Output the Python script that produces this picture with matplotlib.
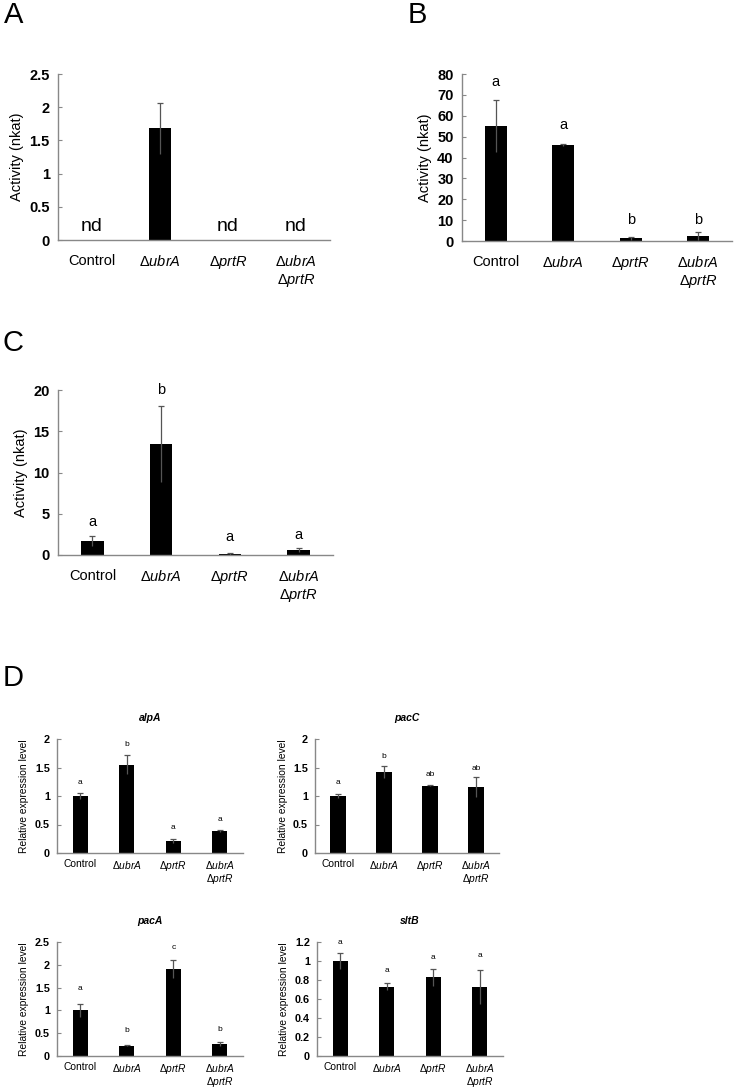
import matplotlib
matplotlib.use('Agg')
import matplotlib.pyplot as plt
import numpy as np

plt.rcParams['font.family'] = ['Liberation Sans', 'DejaVu Sans']
plt.rcParams['mathtext.fontset'] = 'custom'
plt.rcParams['mathtext.rm'] = 'Liberation Sans'
plt.rcParams['mathtext.it'] = 'Liberation Sans:italic'
plt.rcParams['mathtext.bf'] = 'Liberation Sans:bold:italic'

# 株名
strains = ['Control', 'Δ$\\mathit{ubrA}$', 'Δ$\\mathit{prtR}$',
           'Δ$\\mathit{ubrA}$\nΔ$\\mathit{prtR}$']

# A: 活性 (nd = 未検出)
a_vals = [0, 1.68, 0, 0]
a_err = [0, 0.39, 0, 0]
a_nd = [True, False, True, True]

# B
b_vals = [55.0, 46.0, 1.3, 2.5]
b_err = [12.5, 0.7, 0.8, 2.0]
b_letters = ['a', 'a', 'b', 'b']
b_letter_y = [76, 55.5, 10, 10]

# C
c_vals = [1.7, 13.5, 0.15, 0.6]
c_err = [0.6, 4.6, 0.1, 0.2]
c_letters = ['a', 'b', 'a', 'a']
c_letter_y = [4.0, 20.0, 2.2, 2.4]

# D: 相対発現量
genes = ['alpA', 'pacC', 'pacA', 'sltB']
d_vals = {'alpA': [1.0, 1.55, 0.21, 0.38],
          'pacC': [1.0, 1.42, 1.18, 1.16],
          'pacA': [1.0, 0.23, 1.9, 0.26],
          'sltB': [1.0, 0.73, 0.83, 0.73]}
d_err = {'alpA': [0.05, 0.17, 0.03, 0.02],
         'pacC': [0.04, 0.11, 0.01, 0.17],
         'pacA': [0.14, 0.02, 0.2, 0.04],
         'sltB': [0.08, 0.04, 0.09, 0.18]}
d_letters = {'alpA': ['a', 'b', 'a', 'a'],
             'pacC': ['a', 'b', 'ab', 'ab'],
             'pacA': ['a', 'b', 'c', 'b'],
             'sltB': ['a', 'a', 'a', 'a']}
d_letter_y = {'alpA': [1.23, 1.91, 0.44, 0.58],
              'pacC': [1.23, 1.70, 1.37, 1.49],
              'pacA': [1.49, 0.55, 2.39, 0.59],
              'sltB': [1.19, 0.90, 1.04, 1.06]}
d_ylim = {'alpA': 2, 'pacC': 2, 'pacA': 2.5, 'sltB': 1.2}
d_ticks = {'alpA': [0, 0.5, 1, 1.5, 2], 'pacC': [0, 0.5, 1, 1.5, 2],
           'pacA': [0, 0.5, 1, 1.5, 2, 2.5],
           'sltB': [0, 0.2, 0.4, 0.6, 0.8, 1, 1.2]}

W, H = 738, 1089
fig = plt.figure(figsize=(W / 100, H / 100), dpi=100)


def box(l, r, t, b):
    return [l / W, 1 - b / H, (r - l) / W, (b - t) / H]


def fmt(v):
    return ('%g' % v)


def bars(ax, vals, err, ymax, ticks, fs, tfs, ylabel, capw, ls=1.3):
    x = np.arange(len(vals))
    ax.bar(x, vals, width=0.33, color='black', zorder=2)
    ax.errorbar(x, vals, yerr=err, fmt='none', ecolor='#555555',
                elinewidth=0.9, capsize=0, zorder=3)
    e = np.array(err)
    v = np.array(vals)
    m = e > 0
    ax.plot(x[m], (v + e)[m], ls='none', marker='_', ms=capw,
            mew=0.9, color='#555555', zorder=3)
    ax.set_xlim(-0.5, len(vals) - 0.5)
    ax.set_ylim(0, ymax)
    ax.set_yticks(ticks)
    ax.set_yticklabels([fmt(t) for t in ticks], fontsize=tfs,
                       fontweight='bold')
    ax.set_xticks(x)
    ax.set_xticklabels(strains, fontsize=fs, va='top', linespacing=ls)
    ax.tick_params(axis='x', length=0, pad=10)
    ax.tick_params(axis='y', direction='in', length=3, width=0.8,
                   color='#888888', pad=6)
    for s in ['top', 'right']:
        ax.spines[s].set_visible(False)
    for s in ['left', 'bottom']:
        ax.spines[s].set_color('#888888')
        ax.spines[s].set_linewidth(1.0)
    ax.set_ylabel(ylabel, fontsize=fs)


# A
axA = fig.add_axes(box(58, 330, 74, 240))
bars(axA, a_vals, a_err, 2.5, [0, 0.5, 1, 1.5, 2, 2.5], 10.5, 10.5,
     'Activity (nkat)', 5)
for i, nd in enumerate(a_nd):
    if nd:
        axA.text(i, 0.07, 'nd', ha='center', va='bottom', fontsize=14)

# B
axB = fig.add_axes(box(462, 732, 74, 241))
bars(axB, b_vals, b_err, 80, list(range(0, 81, 10)), 10.5, 10.5,
     'Activity (nkat)', 5)
for i, (t, yy) in enumerate(zip(b_letters, b_letter_y)):
    axB.text(i, yy, t, ha='center', va='center', fontsize=10.5)

# C
axC = fig.add_axes(box(58, 333, 390, 555))
bars(axC, c_vals, c_err, 20, [0, 5, 10, 15, 20], 10.5, 10.5,
     'Activity (nkat)', 5)
for i, (t, yy) in enumerate(zip(c_letters, c_letter_y)):
    axC.text(i, yy, t, ha='center', va='center', fontsize=10.5)

# D
d_boxes = {'alpA': (57, 243, 739, 853), 'pacC': (315, 499, 739, 853),
           'pacA': (57, 243, 942, 1056), 'sltB': (317, 503, 942, 1056)}
for g in genes:
    ax = fig.add_axes(box(*d_boxes[g]))
    bars(ax, d_vals[g], d_err[g], d_ylim[g], d_ticks[g], 7.4, 7.8,
         'Relative expression level', 4, ls=1.15)
    ax.tick_params(axis='x', pad=4)
    ax.tick_params(axis='y', pad=5)
    for i, (t, yy) in enumerate(zip(d_letters[g], d_letter_y[g])):
        ax.text(i, yy, t, ha='center', va='center', fontsize=6)
    ax.set_title(g, fontsize=7.5, fontweight='bold', fontstyle='italic',
                 pad=13)

# パネル記号
for lab, x, y in [('A', 4, 15), ('B', 408, 15), ('C', 3, 343), ('D', 3, 678)]:
    fig.text(x / W, 1 - y / H, lab, fontsize=21, va='center', ha='left')

fig.savefig('out.png', dpi=100)
